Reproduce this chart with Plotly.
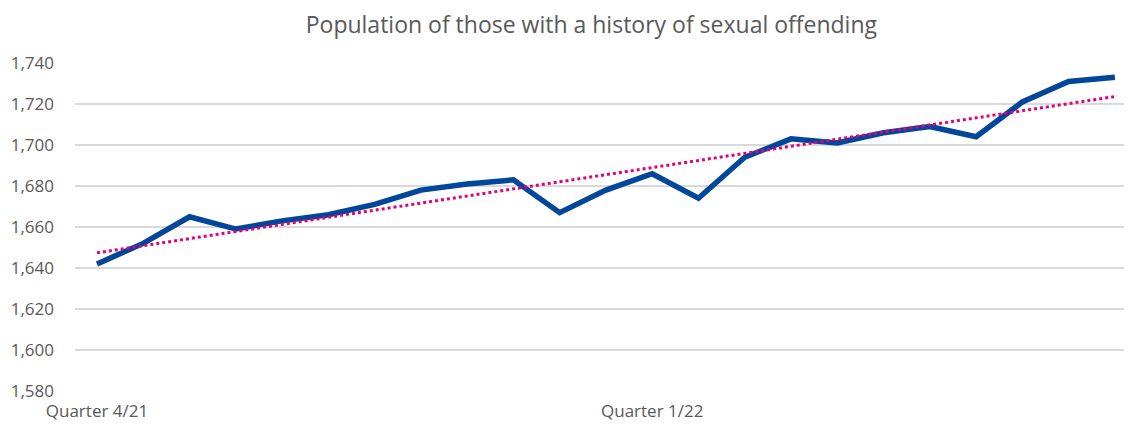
import numpy as np
import plotly.graph_objects as go

# population by period (23 observations)
population = [1642, 1652, 1665, 1659, 1663, 1666, 1671, 1678, 1681, 1683,
              1667, 1678, 1686, 1674, 1694, 1703, 1701, 1706, 1709, 1704,
              1721, 1731, 1733]
tick_positions = [0, 12]
tick_labels = ["Quarter 4/21", "Quarter 1/22"]

x = np.arange(len(population))
# linear trendline, as Excel would draw it
slope, intercept = np.polyfit(x, population, 1)
trend = slope * x + intercept

fig = go.Figure()
fig.add_trace(go.Scatter(x=x, y=population, mode="lines",
                         line=dict(color="#00469A", width=5.5),
                         hoverinfo="y", showlegend=False))
fig.add_trace(go.Scatter(x=x, y=trend, mode="lines",
                         line=dict(color="#E2007A", width=3, dash="dot"),
                         hoverinfo="skip", showlegend=False))

# page body has an 8px margin, so the figure is sized / offset for it
fig.update_layout(
    width=1124, height=427,
    margin=dict(l=67, r=0, t=55, b=44),
    plot_bgcolor="white", paper_bgcolor="white",
    font=dict(family="Open Sans", color="#595959", size=17),
    title=dict(text="Population of those with a history of sexual offending",
               x=0.519, xanchor="center", y=1 - 17 / 427, yanchor="middle",
               font=dict(size=23, color="#595959")),
    xaxis=dict(range=[-0.475, 22.37], tickvals=tick_positions,
               ticktext=tick_labels, showgrid=False, zeroline=False,
               showline=False, ticks="", ticklabelstandoff=8,
               automargin=False),
    yaxis=dict(range=[1580, 1740], dtick=20, tickformat=",",
               showgrid=True, gridcolor="#D9D9D9", gridwidth=1.5,
               zeroline=False, showline=False, ticks="",
               ticklabelstandoff=20, automargin=False),
)

fig.write_html("out.html")
